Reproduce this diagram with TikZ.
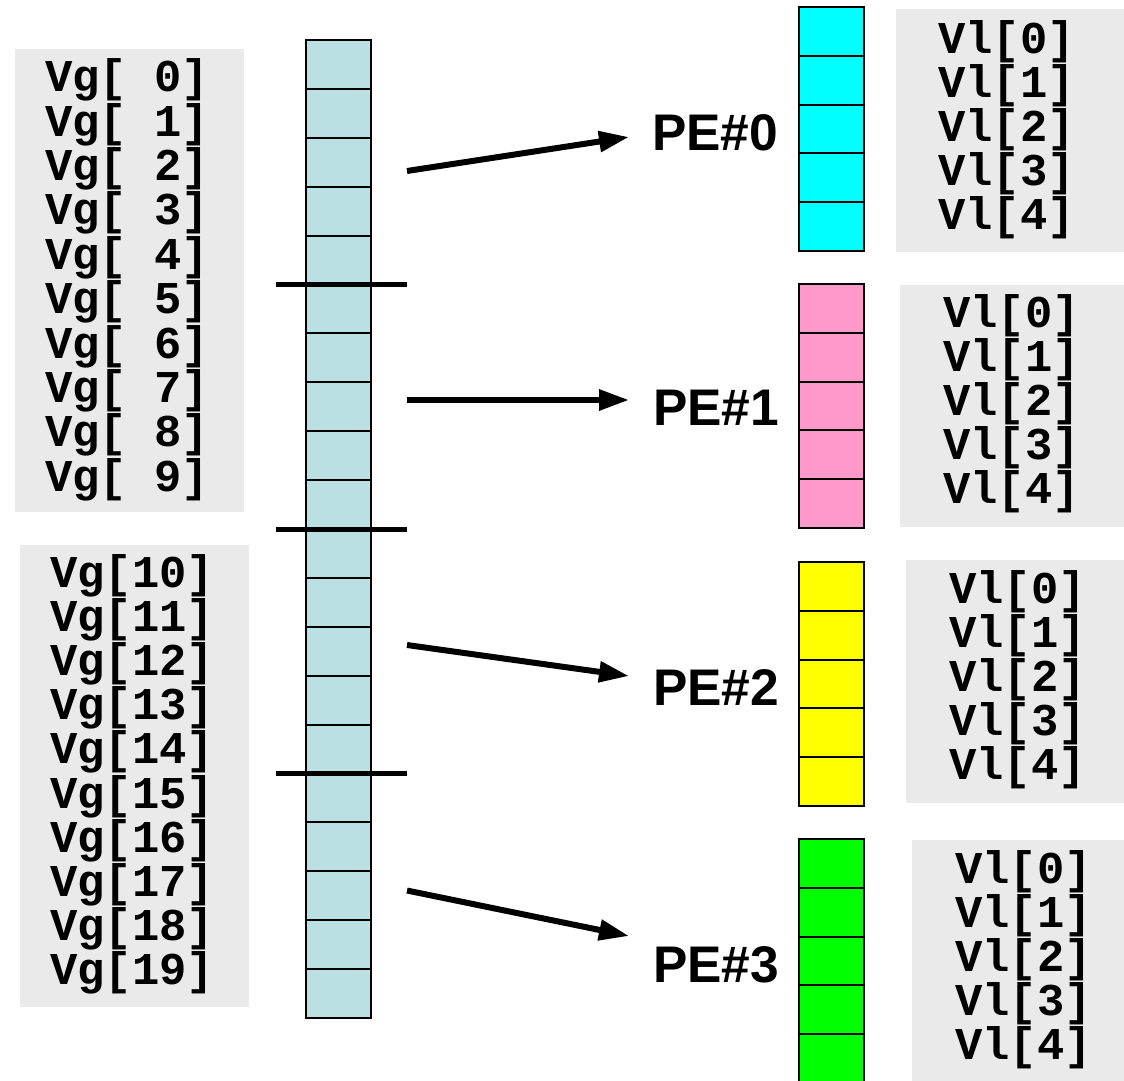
\documentclass[tikz,border=0pt]{standalone}
\usepackage{fontspec}
\setmainfont{Liberation Sans}
\newfontfamily\codefont{Liberation Mono}
\usetikzlibrary{arrows.meta}
\definecolor{colbg}{RGB}{187,224,227}
\definecolor{boxgrey}{RGB}{234,234,234}
\definecolor{pecyan}{RGB}{0,255,255}
\definecolor{pepink}{RGB}{255,153,204}
\definecolor{peyellow}{RGB}{255,255,0}
\definecolor{pegreen}{RGB}{0,255,0}
\begin{document}
\begin{tikzpicture}[x=1pt,y=-1pt,
  cellbox/.style={draw=black, line width=2pt, minimum width=65pt, minimum height=48.9pt, inner sep=0pt, outer sep=0pt},
  codetext/.style={anchor=base west, inner sep=0pt, font=\codefont\bfseries\fontsize{45.5}{45.5}\selectfont},
  pelabel/.style={anchor=base west, inner sep=0pt, font=\bfseries\fontsize{51.5}{51.5}\selectfont},
  arr/.style={line width=6pt, -{Triangle[length=30pt,width=20pt]}},
  sepline/.style={line width=5pt}]
\useasboundingbox (0,0) rectangle (1124,1081);
\clip (0,0) rectangle (1124,1081);
\fill[white] (0,0) rectangle (1124,1081);
% grey text panels
\fill[boxgrey] (15,49) rectangle (244,512);
\fill[boxgrey] (20,545) rectangle (249,1007);
\fill[boxgrey] (896,9) rectangle (1124,252);
\fill[boxgrey] (900,285) rectangle (1124,527);
\fill[boxgrey] (906,560) rectangle (1124,803);
\fill[boxgrey] (912,840) rectangle (1124,1081);
% global column
\foreach \i in {0,...,19}
  \node[cellbox, fill=colbg] (c\i) at (338.5, {40+48.9*(\i+0.5)}) {};
% local columns
\foreach \p/\top/\col in {0/7/pecyan, 1/284/pepink, 2/562/peyellow, 3/839/pegreen}
  \foreach \j in {0,...,4}
    \node[cellbox, fill=\col] (p\p-\j) at (831, {\top+48.8*(\j+0.5)}) {};
% separators
\draw[sepline] (276,284) -- (407,284);
\draw[sepline] (276,529) -- (407,529);
\draw[sepline] (276,773) -- (407,773);
% global labels
\foreach \i in {0,...,9}
  \node[codetext] (vg\i) at (45, {91.7+44.4*\i}) {Vg[ \i]};
\foreach \i in {10,...,19}
  \node[codetext] (vg\i) at (50, {587.5+44.1*(\i-10)}) {Vg[\i]};
% local labels
\foreach \p/\x/\b in {0/938/53, 1/943/327, 2/949/603, 3/955/883}
  \foreach \j in {0,...,4}
    \node[codetext] (vl\p-\j) at (\x, {\b+44*\j}) {Vl[\j]};
% PE labels
\node[pelabel] (pe0) at (652,150) {PE\#0};
\node[pelabel] (pe1) at (653,425) {PE\#1};
\node[pelabel] (pe2) at (653,705) {PE\#2};
\node[pelabel] (pe3) at (653,982) {PE\#3};
% arrows
\coordinate (s0) at (407,171); \coordinate (t0) at (629,137);
\coordinate (s1) at (407,400); \coordinate (t1) at (629,400);
\coordinate (s2) at (407,645); \coordinate (t2) at (629,676);
\coordinate (s3) at (407,890.5); \coordinate (t3) at (629,936);
\draw[arr] (s0) -- (t0);
\draw[arr] (s1) -- (t1);
\draw[arr] (s2) -- (t2);
\draw[arr] (s3) -- (t3);
\end{tikzpicture}
\end{document}
